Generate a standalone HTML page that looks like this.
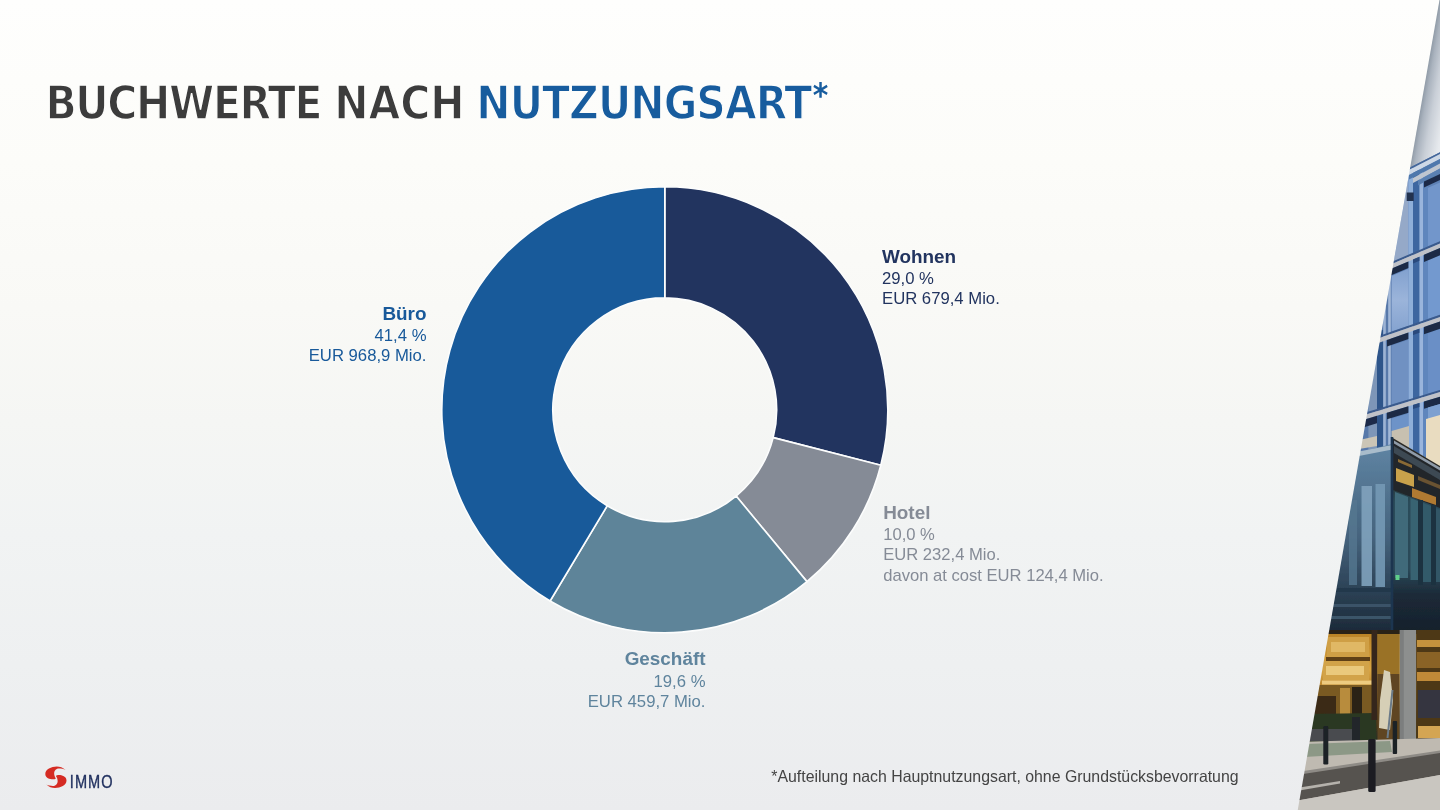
<!DOCTYPE html>
<html lang="de">
<head>
<meta charset="utf-8">
<title>Buchwerte nach Nutzungsart</title>
<style>
  html, body { margin: 0; padding: 0; }
  body {
    width: 1440px; height: 810px; overflow: hidden; position: relative;
    font-family: "Liberation Sans", sans-serif;
    background: linear-gradient(to bottom, #fefefd 0%, #fcfcf9 20%, #f9f9f6 38%, #f5f6f4 52%, #f1f3f3 66%, #eef0f1 82%, #ebecee 100%);
  }
  .title {
    position: absolute; left: 46.2px; top: 78px; margin: 0; width: 900px; height: 52px;
    font-family: "DejaVu Sans Condensed", "DejaVu Sans", "Liberation Sans", sans-serif; font-weight: bold; font-stretch: condensed;
    font-size: 45.6px; line-height: 52px; color: #3c3c3c; white-space: nowrap;
    letter-spacing: -0.6px; word-spacing: 4px; -webkit-text-stroke: 1.3px #fdfdfb;
  }
  .title .blue { color: #175c9e; }
  .title .w { position: absolute; top: 0; }
  .title .w1 { left: -0.8px; letter-spacing: -1.35px; }
  .title .w2 { left: 288.1px; letter-spacing: -0.1px; }
  .title .w3 { left: 430.1px; letter-spacing: -0.94px; }
  .title .w4 { left: 766.5px; top: -8px; font-size: 33px; letter-spacing: 0; -webkit-text-stroke: 0; }
  .chart { position: absolute; left: 0; top: 0; }
  .lbl { position: absolute; font-size: 16.7px; line-height: 20.2px; white-space: nowrap; }
  .lbl .h { font-size: 18.9px; font-weight: bold; line-height: 21px; margin-bottom: 2.3px; }
  .lbl.r { text-align: right; }
  .c-wohnen { color: #22345f; }
  .c-hotel { color: #858b96; }
  .c-gesch { color: #5f849d; }
  .c-buero { color: #18599a; }
  .foot {
    position: absolute; left: 771.3px; top: 767px; font-size: 15.87px; line-height: 20px;
    color: #444; white-space: nowrap;
  }
  .logo { position: absolute; left: 40px; top: 760px; }
  .photo { position: absolute; left: 1290px; top: 0; }
</style>
</head>
<body>
  <h1 class="title"><span class="w w1">BUCHWERTE</span> <span class="w w2">NACH</span> <span class="w w3 blue">NUTZUNGSART</span><span class="w w4 blue">*</span></h1>

  <svg class="chart" width="1440" height="810" viewBox="0 0 1440 810">
    <g id="donut">
      <g stroke="#fcfdfd" stroke-width="1.6" stroke-linejoin="round">
      <path d="M664.80,186.80 A223.0,223.0 0 0 1 880.79,465.26 L773.18,437.63 A111.9,111.9 0 0 0 664.80,297.90 Z" fill="#22345f"/>
      <path d="M880.79,465.26 A223.0,223.0 0 0 1 806.95,581.62 L736.13,496.02 A111.9,111.9 0 0 0 773.18,437.63 Z" fill="#858b96"/>
      <path d="M806.95,581.62 A223.0,223.0 0 0 1 550.08,601.03 L607.23,505.76 A111.9,111.9 0 0 0 736.13,496.02 Z" fill="#5e8499"/>
      <path d="M550.08,601.03 A223.0,223.0 0 0 1 664.80,186.80 L664.80,297.90 A111.9,111.9 0 0 0 607.23,505.76 Z" fill="#185a9a"/>
      </g>
    </g>
  </svg>

  <div class="lbl c-wohnen" style="left:882px; top:245.8px;"><div class="h">Wohnen</div><div>29,0 %</div><div>EUR 679,4 Mio.</div></div>
  <div class="lbl c-hotel" style="left:883.2px; top:501.8px; font-size:16.6px;"><div class="h">Hotel</div><div>10,0 %</div><div>EUR 232,4 Mio.</div><div>davon at cost EUR 124,4 Mio.</div></div>
  <div class="lbl r c-gesch" style="right:734.5px; top:648.3px;"><div class="h">Geschäft</div><div>19,6 %</div><div>EUR 459,7 Mio.</div></div>
  <div class="lbl r c-buero" style="right:1013.5px; top:302.9px;"><div class="h">Büro</div><div>41,4 %</div><div>EUR 968,9 Mio.</div></div>

  <div class="foot">*Aufteilung nach Hauptnutzungsart, ohne Grundstücksbevorratung</div>

  <svg class="logo" width="100" height="40" viewBox="40 760 100 40">
    <g transform="translate(55.9,777.2)" fill="#d52b23">
      <path id="comma" d="M9.6,-7.3 C7.2,-9.7 3.8,-10.8 0.9,-10.8 C-4.6,-10.8 -10.6,-8 -10.6,-3.3 C-10.6,0.7 -6,2.1 -3.0,2.1 C-1.7,2.1 -0.6,1.7 0.0,1.2 C-1.2,-0.4 -1.8,-2.4 -1.75,-4.0 C-1.7,-6.7 0.6,-8.75 3.0,-8.75 C5.4,-8.75 7.6,-8.3 9.6,-7.3 Z"/>
      <path transform="rotate(180)" d="M9.6,-7.3 C7.2,-9.7 3.8,-10.8 0.9,-10.8 C-4.6,-10.8 -10.6,-8 -10.6,-3.3 C-10.6,0.7 -6,2.1 -3.0,2.1 C-1.7,2.1 -0.6,1.7 0.0,1.2 C-1.2,-0.4 -1.8,-2.4 -1.75,-4.0 C-1.7,-6.7 0.6,-8.75 3.0,-8.75 C5.4,-8.75 7.6,-8.3 9.6,-7.3 Z"/>
    </g>
    <text transform="translate(69.8,787.8) scale(0.82,1)" font-family="Liberation Sans, sans-serif" font-size="17.8" letter-spacing="1.25" fill="#1f2f5e" stroke="#1f2f5e" stroke-width="0.35">IMMO</text>
  </svg>

  <svg class="photo" width="150" height="810" viewBox="1290 0 150 810">

<defs>
  <clipPath id="cp"><polygon points="1439.5,0 1440,0 1440,810 1297.75,810"/></clipPath>
  <linearGradient id="gSky" gradientUnits="userSpaceOnUse" x1="1422" y1="100" x2="1456" y2="106">
    <stop offset="0" stop-color="#919ca8"/><stop offset="0.12" stop-color="#aab3be"/><stop offset="0.35" stop-color="#c9cfd7"/><stop offset="0.7" stop-color="#e6e9ed"/><stop offset="1" stop-color="#f3f4f6"/>
  </linearGradient>
  <linearGradient id="gFacade" gradientUnits="userSpaceOnUse" x1="0" y1="170" x2="0" y2="470">
    <stop offset="0" stop-color="#6f93c6"/><stop offset="0.5" stop-color="#6a8cbe"/><stop offset="1" stop-color="#5d7fb0"/>
  </linearGradient>
  <linearGradient id="gPaneL" gradientUnits="userSpaceOnUse" x1="0" y1="260" x2="0" y2="340">
    <stop offset="0" stop-color="#7b9ccc"/><stop offset="0.5" stop-color="#9bb4da"/><stop offset="1" stop-color="#7f9fcd"/>
  </linearGradient>
  <linearGradient id="gBoxL" gradientUnits="userSpaceOnUse" x1="0" y1="445" x2="0" y2="630">
    <stop offset="0" stop-color="#5f84a3"/><stop offset="0.5" stop-color="#45637d"/><stop offset="0.78" stop-color="#2c4256"/><stop offset="1" stop-color="#1d2b3a"/>
  </linearGradient>
  <linearGradient id="gBoxR" gradientUnits="userSpaceOnUse" x1="0" y1="470" x2="0" y2="630">
    <stop offset="0" stop-color="#2b2a26"/><stop offset="0.2" stop-color="#2c4c5a"/><stop offset="0.62" stop-color="#2a4858"/><stop offset="0.78" stop-color="#1c2a38"/><stop offset="1" stop-color="#16212c"/>
  </linearGradient>
  <linearGradient id="gWarm" gradientUnits="userSpaceOnUse" x1="0" y1="632" x2="0" y2="740">
    <stop offset="0" stop-color="#b98226"/><stop offset="0.35" stop-color="#d9a544"/><stop offset="0.6" stop-color="#a87422"/><stop offset="0.8" stop-color="#4a3a1c"/><stop offset="1" stop-color="#2a2f22"/>
  </linearGradient>
  <filter id="soft" x="-5%" y="-2%" width="110%" height="104%"><feGaussianBlur stdDeviation="0.55"/></filter>
</defs>
<g clip-path="url(#cp)"><g filter="url(#soft)">
<rect x="1290" y="0" width="150" height="810" fill="url(#gSky)"/>
<polygon points="1400.0,172.0 1440.0,151.5 1440.0,480.0 1340.0,480.0" fill="#5f82b6" />
<polygon points="1410.1,168.0 1408.4,168.0 1408.4,262.0 1393.7,262.0" fill="#95a9c8" />
<polygon points="1392.2,270.0 1391.6,262.0 1391.6,480.0 1355.5,480.0" fill="#5879aa" />
<polygon points="1368.4,345.0 1377.0,342.0 1377.0,470.0 1368.4,470.0" fill="#7d96b8" />
<rect x="1377" y="330" width="6.2" height="150" fill="#2f548a"/>
<rect x="1383.2" y="270" width="2.6" height="200" fill="#9db3d4"/>
<rect x="1388.2" y="268" width="2.6" height="200" fill="#a3b8d8"/>
<rect x="1408.4" y="168" width="4.6" height="300" fill="#8fafd9"/>
<rect x="1413" y="166" width="6.5" height="300" fill="#3c66a0"/>
<rect x="1419.5" y="164" width="3.7" height="300" fill="#9ab5dc"/>
<rect x="1423.2" y="162" width="4.8" height="300" fill="#5f86bd"/>
<polygon points="1380.0,0.0 1440.0,0.0 1440.0,152.3 1380.0,182.6" fill="url(#gSky)" />
<polygon points="1405.0,170.0 1440.0,152.3 1440.0,154.3 1405.0,172.0" fill="#45679a" />
<polygon points="1407.0,171.0 1440.0,154.0 1440.0,159.0 1407.0,176.0" fill="#cdd8e6" />
<polygon points="1409.0,175.0 1440.0,159.0 1440.0,163.5 1409.0,179.5" fill="#4f78ac" />
<polygon points="1413.0,178.0 1440.0,163.5 1440.0,168.5 1413.0,183.0" fill="#bfc6d0" />
<polygon points="1418.0,180.5 1440.0,168.5 1440.0,173.5 1418.0,185.5" fill="#5a80b2" />
<polygon points="1428.0,187.7 1440.0,182.5 1440.0,241.2 1428.0,246.3" fill="#7296cb" />
<polygon points="1428.0,260.3 1440.0,255.2 1440.0,314.8 1428.0,318.9" fill="#7399cf" />
<polygon points="1428.0,332.9 1440.0,328.8 1440.0,389.9 1428.0,393.5" fill="#6a8fc6" />
<polygon points="1391.6,275.9 1408.4,268.7 1408.4,325.7 1391.6,331.5" fill="url(#gPaneL)" />
<polygon points="1391.6,345.5 1408.4,339.7 1408.4,399.5 1391.6,404.6" fill="#6f91c2" />
<polygon points="1340.0,283.9 1440.0,241.2 1440.0,243.4 1340.0,286.1" fill="#3a5a8c" />
<polygon points="1340.0,286.1 1440.0,243.4 1440.0,248.0 1340.0,290.7" fill="#c0c2c8" />
<polygon points="1424.0,254.8 1440.0,248.0 1440.0,255.2 1424.0,262.0" fill="#1a2a45" />
<polygon points="1387.0,270.6 1408.4,261.5 1408.4,268.0 1387.0,277.1" fill="#1a2a45" />
<polygon points="1413.0,259.5 1419.5,256.8 1419.5,260.8 1413.0,263.5" fill="#2a4a7c" />
<polygon points="1340.0,349.4 1440.0,314.8 1440.0,317.0 1340.0,351.6" fill="#3a5a8c" />
<polygon points="1340.0,351.6 1440.0,317.0 1440.0,321.6 1340.0,356.2" fill="#c0c2c8" />
<polygon points="1424.0,327.1 1440.0,321.6 1440.0,328.8 1424.0,334.3" fill="#1a2a45" />
<polygon points="1387.0,339.9 1408.4,332.5 1408.4,339.0 1387.0,346.4" fill="#1a2a45" />
<polygon points="1413.0,330.9 1419.5,328.7 1419.5,332.7 1413.0,334.9" fill="#2a4a7c" />
<polygon points="1340.0,420.2 1440.0,389.9 1440.0,392.1 1340.0,422.4" fill="#3a5a8c" />
<polygon points="1340.0,422.4 1440.0,392.1 1440.0,396.7 1340.0,427.0" fill="#c0c2c8" />
<polygon points="1424.0,401.6 1440.0,396.7 1440.0,403.9 1424.0,408.8" fill="#1a2a45" />
<polygon points="1387.0,412.8 1408.4,406.3 1408.4,412.8 1387.0,419.3" fill="#1a2a45" />
<polygon points="1413.0,404.9 1419.5,402.9 1419.5,406.9 1413.0,408.9" fill="#2a4a7c" />
<polygon points="1364.0,347.9 1377.0,343.4 1377.0,349.9 1364.0,354.4" fill="#1c2c48" />
<polygon points="1360.0,421.0 1377.0,415.8 1377.0,423.3 1360.0,428.5" fill="#1c2c48" />
<polygon points="1424.0,181.5 1440.0,174.0 1440.0,180.0 1424.0,187.5" fill="#1c2c48" />
<rect x="1406.7" y="192.5" width="7" height="8.5" fill="#22324f"/>
<polygon points="1428.0,407.5 1440.0,403.9 1440.0,462.0 1428.0,465.4" fill="#7da0d0" />
<polygon points="1426.0,419.0 1440.0,415.0 1440.0,468.0 1426.0,460.0" fill="#e9dcc0" />
<polygon points="1391.6,418.6 1408.4,413.5 1408.4,471.0 1391.6,475.8" fill="#6d93c8" />
<polygon points="1391.6,431.0 1409.0,426.0 1409.0,448.0 1391.6,440.0" fill="#c7c0b0" />
<polygon points="1355.0,441.0 1377.0,436.0 1377.0,446.0 1353.0,450.0" fill="#cbc5b6" />
<polygon points="1340.0,457.0 1392.0,444.0 1392.0,632.0 1320.0,632.0" fill="url(#gBoxL)" />
<polygon points="1355.0,452.2 1391.0,445.2 1391.0,449.8 1355.0,456.8" fill="#a9bccb" />
<rect x="1361.5" y="486" width="10.5" height="100" fill="#7fa2bc" opacity="0.9"/>
<rect x="1375.5" y="484" width="9.5" height="103" fill="#7499b5" opacity="0.9"/>
<rect x="1349" y="500" width="8" height="85" fill="#557790" opacity="0.8"/>
<rect x="1320" y="588" width="72" height="4" fill="#22384c"/>
<rect x="1320" y="604" width="72" height="3" fill="#3a5268"/>
<rect x="1320" y="616" width="72" height="3" fill="#3b5469"/>
<polygon points="1392.0,437.5 1440.0,466.0 1440.0,632.0 1392.0,632.0" fill="url(#gBoxR)" />
<polygon points="1393.0,440.0 1440.0,468.0 1440.0,508.0 1393.0,490.0" fill="#23262a" />
<polygon points="1394.0,440.5 1440.0,467.5 1440.0,470.5 1394.0,443.5" fill="#8f9ba8" />
<polygon points="1394.0,446.0 1440.0,473.0 1440.0,480.0 1394.0,453.0" fill="#3c4852" />
<polygon points="1396.0,468.0 1414.0,475.0 1414.0,487.0 1396.0,481.0" fill="#c9a24c" />
<polygon points="1398.0,459.0 1412.0,465.0 1412.0,468.0 1398.0,462.0" fill="#8a6a34" />
<polygon points="1412.0,488.0 1436.0,497.0 1436.0,505.0 1412.0,497.0" fill="#b07a32" />
<polygon points="1418.0,476.0 1440.0,485.0 1440.0,489.0 1418.0,480.0" fill="#6a5230" />
<polygon points="1395.0,492.0 1408.0,497.0 1408.0,578.0 1395.0,578.0" fill="#3f6b7a" />
<polygon points="1410.5,498.0 1418.0,501.0 1418.0,580.0 1410.5,580.0" fill="#386372" />
<polygon points="1423.0,503.0 1431.0,506.0 1431.0,582.0 1423.0,582.0" fill="#325a69" />
<polygon points="1436.0,508.0 1440.0,509.5 1440.0,582.0 1436.0,582.0" fill="#305666" />
<rect x="1418" y="500" width="5" height="85" fill="#1c3040"/>
<rect x="1431" y="505" width="5" height="80" fill="#1c3040"/>
<rect x="1390.7" y="437" width="2.6" height="195" fill="#1d3550"/>
<rect x="1395.5" y="575" width="4" height="5" fill="#5fd08a"/>
<rect x="1300" y="630" width="140" height="112" fill="url(#gWarm)"/>
<rect x="1300" y="630" width="140" height="4" fill="#2a2218"/>
<rect x="1327" y="637" width="42" height="20" fill="#cf9f45"/>
<rect x="1331" y="642" width="34" height="10" fill="#e6c070" opacity="0.75"/>
<rect x="1323" y="661" width="46" height="19" fill="#d2a348"/>
<rect x="1326" y="666" width="38" height="9" fill="#f0d28a" opacity="0.8"/>
<rect x="1326" y="657" width="44" height="4" fill="#5e4015"/>
<rect x="1322" y="680.5" width="50" height="4" fill="#edcb80"/>
<rect x="1318" y="685" width="54" height="30" fill="#7a5a22"/>
<rect x="1340" y="688" width="10" height="26" fill="#b88c3e"/>
<rect x="1352" y="687" width="10" height="28" fill="#2b2418"/>
<rect x="1310" y="696" width="26" height="20" fill="#3a2c18"/>
<polygon points="1308.0,714.0 1376.0,713.0 1376.0,740.0 1304.0,742.0" fill="#2c3722" />
<rect x="1306" y="729" width="46" height="12" fill="#4a4b50"/>
<rect x="1352" y="717" width="8" height="24" fill="#23262b"/>
<rect x="1371.5" y="630" width="6" height="90" fill="#35281a"/>
<rect x="1377.5" y="634" width="22" height="40" fill="#9a7228"/>
<rect x="1377.5" y="674" width="22" height="66" fill="#5e4520"/>
<polygon points="1384.0,670.0 1390.0,672.0 1393.0,700.0 1390.0,730.0 1379.0,728.0 1380.0,700.0" fill="#d6cfb6" />
<polygon points="1391.5,690.0 1393.5,690.0 1388.5,738.0 1386.5,738.0" fill="#6a7a88" />
<rect x="1399.8" y="630" width="16.4" height="110" fill="#8d8f8e"/>
<rect x="1399.8" y="630" width="4" height="110" fill="#7c7e7e"/>
<rect x="1416.2" y="630" width="24" height="110" fill="#4e3818"/>
<rect x="1417" y="640" width="23" height="7" fill="#c4923e"/>
<rect x="1417" y="652" width="23" height="16" fill="#8a6426"/>
<rect x="1417" y="672" width="23" height="9" fill="#c08a38"/>
<rect x="1418" y="690" width="22" height="28" fill="#35353f"/>
<rect x="1418" y="726" width="22" height="12" fill="#d4a552"/>
<polygon points="1290.0,742.0 1440.0,738.0 1440.0,810.0 1290.0,810.0" fill="#bfbab1" />
<polygon points="1306.0,744.0 1390.0,741.0 1392.0,752.0 1304.0,757.0" fill="#8c9886" />
<polygon points="1290.0,775.0 1440.0,752.0 1440.0,775.0 1290.0,802.0" fill="#57534f" />
<polygon points="1290.0,773.0 1440.0,750.5 1440.0,753.0 1290.0,776.0" fill="#8e8b86" />
<polygon points="1290.0,789.0 1340.0,781.0 1340.0,783.5 1290.0,792.0" fill="#b5b2ac" />
<polygon points="1290.0,802.0 1440.0,775.0 1440.0,810.0 1290.0,810.0" fill="#c9c6c0" />
<rect x="1323.3" y="726" width="5" height="38.5" rx="1.2" fill="#1d2026"/>
<rect x="1368.2" y="739" width="7.4" height="53" rx="1.5" fill="#1b1e24"/>
<rect x="1392.7" y="721" width="4.4" height="33" rx="1" fill="#1d2026"/>
</g></g>
</svg>
</body>
</html>
